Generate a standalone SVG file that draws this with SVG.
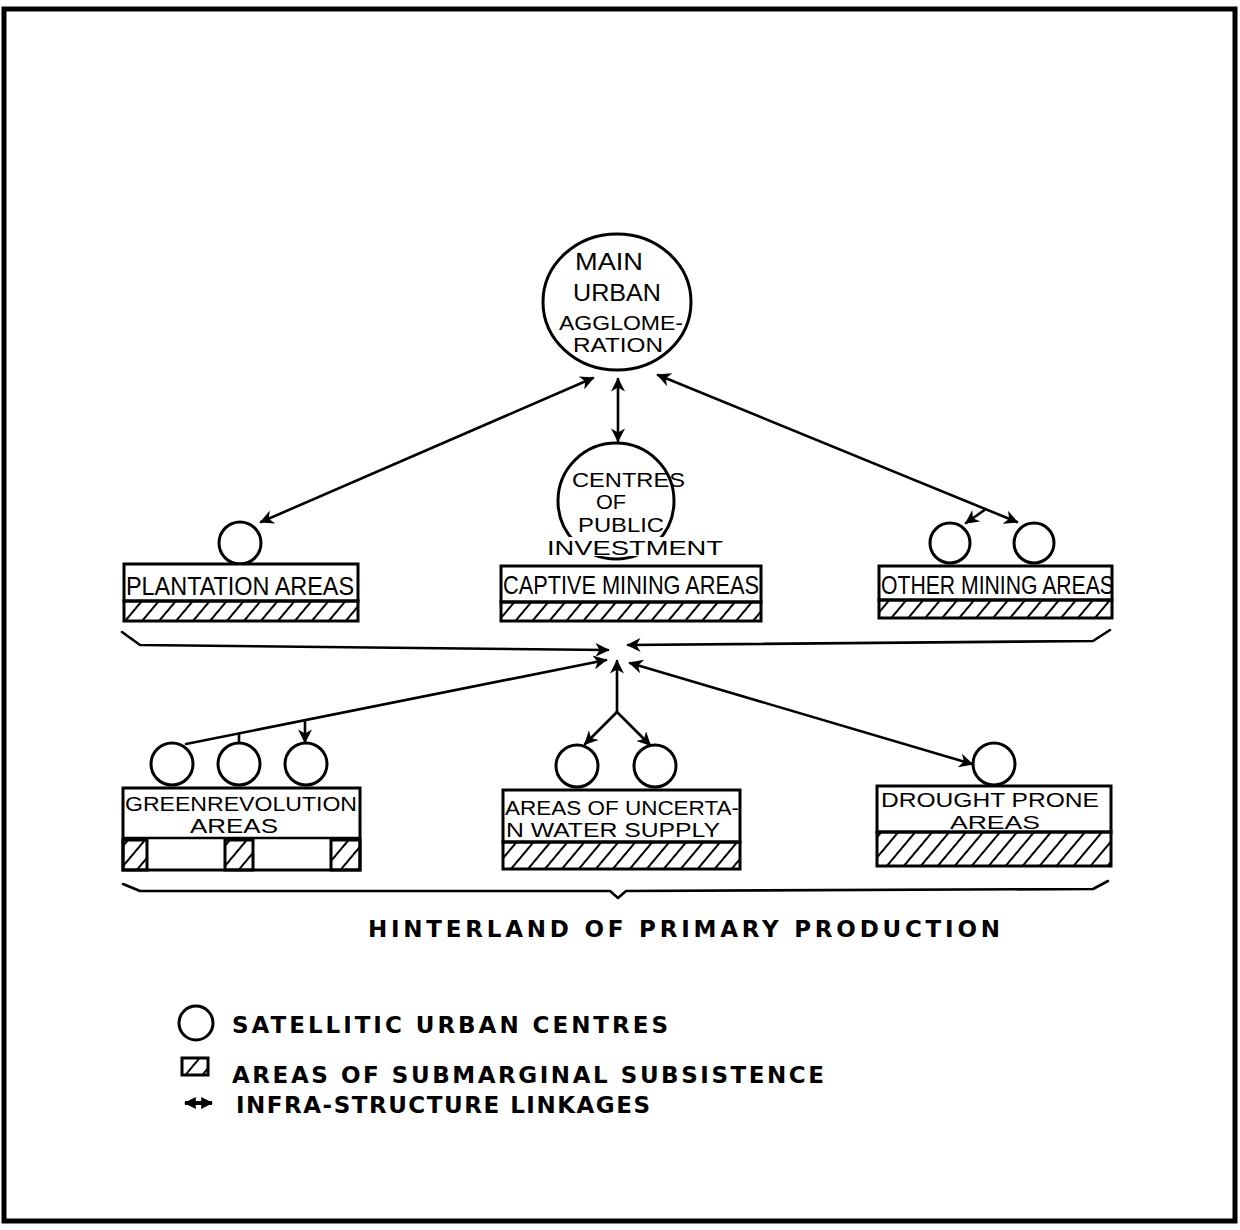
<svg xmlns="http://www.w3.org/2000/svg" width="1240" height="1230" viewBox="0 0 1240 1230">
<defs>
<marker id="ah" viewBox="0 0 10 10" refX="9" refY="5" markerWidth="14" markerHeight="14" markerUnits="userSpaceOnUse" orient="auto-start-reverse">
<path d="M0,0 L10,5 L0,10 L3,5 Z" fill="#000"/>
</marker>
<marker id="ahL" viewBox="0 0 10 10" refX="9" refY="5" markerWidth="12" markerHeight="12" markerUnits="userSpaceOnUse" orient="auto-start-reverse">
<path d="M0,0 L10,5 L0,10 Z" fill="#000"/>
</marker>
<pattern id="hatch" patternUnits="userSpaceOnUse" width="13" height="13" patternTransform="rotate(40)">
<line x1="0" y1="0" x2="0" y2="13" stroke="#000" stroke-width="4"/>
</pattern>
</defs>
<style>
.ln{fill:none;stroke:#000;stroke-width:2.6;stroke-linecap:round;stroke-linejoin:round}
.c{fill:#fff;stroke:#000;stroke-width:3}
.box{fill:#fff;stroke:#000;stroke-width:3}
.h{fill:url(#hatch);stroke:#000;stroke-width:3}
.t{font-family:"Liberation Sans","DejaVu Sans",sans-serif;fill:#000}
.b{font-family:"DejaVu Sans","Liberation Sans",sans-serif;font-weight:bold;fill:#000}
</style>
<rect width="1240" height="1230" fill="#fff"/>
<rect x="4" y="9" width="1231" height="1212" fill="none" stroke="#000" stroke-width="5"/>

<g id="main">
<ellipse class="c" cx="617" cy="302" rx="74" ry="68"/>
<text class="t" x="575" y="270" font-size="23" textLength="68" lengthAdjust="spacingAndGlyphs">MAIN</text>
<text class="t" x="573" y="301" font-size="23" textLength="88" lengthAdjust="spacingAndGlyphs">URBAN</text>
<text class="t" x="559" y="330" font-size="20" textLength="124" lengthAdjust="spacingAndGlyphs">AGGLOME-</text>
<text class="t" x="573" y="352" font-size="20" textLength="90" lengthAdjust="spacingAndGlyphs">RATION</text>
</g>

<g id="plantation">
<circle class="c" cx="240" cy="543" r="21"/>
<rect class="box" x="124" y="564" width="234" height="37"/>
<rect class="h" x="124" y="601" width="234" height="20"/>
<text class="t" x="126" y="595" font-size="26" textLength="228" lengthAdjust="spacingAndGlyphs">PLANTATION AREAS</text>
</g>

<g id="captive">
<circle class="c" cx="616" cy="501" r="58"/>
<rect fill="#fff" x="545" y="537" width="180" height="19"/>
<text class="t" x="572" y="487" font-size="21" textLength="113" lengthAdjust="spacingAndGlyphs">CENTRES</text>
<text class="t" x="596" y="509" font-size="21" textLength="30" lengthAdjust="spacingAndGlyphs">OF</text>
<text class="t" x="578" y="532" font-size="21" textLength="86" lengthAdjust="spacingAndGlyphs">PUBLIC</text>
<text class="t" x="547" y="555" font-size="21" textLength="176" lengthAdjust="spacingAndGlyphs">INVESTMENT</text>
<rect class="box" x="501" y="566" width="260" height="36"/>
<rect class="h" x="501" y="602" width="260" height="19"/>
<text class="t" x="503" y="594" font-size="26" textLength="256" lengthAdjust="spacingAndGlyphs">CAPTIVE MINING AREAS</text>
</g>

<g id="other">
<circle class="c" cx="950" cy="543" r="20"/>
<circle class="c" cx="1034" cy="543" r="20"/>
<rect class="box" x="879" y="566" width="233" height="34"/>
<rect class="h" x="879" y="600" width="233" height="18"/>
<text class="t" x="881" y="594" font-size="26" textLength="233" lengthAdjust="spacingAndGlyphs">OTHER MINING AREAS</text>
</g>

<g id="green">
<circle class="c" cx="172" cy="764" r="21"/>
<circle class="c" cx="239" cy="764" r="21"/>
<circle class="c" cx="306" cy="764" r="21"/>
<rect class="box" x="123" y="788" width="237" height="82"/>
<line class="ln" x1="123" y1="838" x2="360" y2="838"/>
<rect class="h" x="123" y="840" width="24" height="30"/>
<rect class="h" x="225" y="840" width="28" height="30"/>
<rect class="h" x="331" y="840" width="29" height="30"/>
<text class="t" x="125" y="811" font-size="20" textLength="232" lengthAdjust="spacingAndGlyphs">GREENREVOLUTION</text>
<text class="t" x="190" y="833" font-size="20" textLength="88" lengthAdjust="spacingAndGlyphs">AREAS</text>
</g>

<g id="water">
<circle class="c" cx="577" cy="766" r="21"/>
<circle class="c" cx="655" cy="766" r="21"/>
<rect class="box" x="503" y="790" width="237" height="52"/>
<rect class="h" x="503" y="842" width="237" height="27"/>
<text class="t" x="505" y="815" font-size="20" textLength="234" lengthAdjust="spacingAndGlyphs">AREAS OF UNCERTA-</text>
<text class="t" x="506" y="837" font-size="20" textLength="214" lengthAdjust="spacingAndGlyphs">N WATER SUPPLY</text>
</g>

<g id="drought">
<circle class="c" cx="994" cy="764" r="21"/>
<rect class="box" x="877" y="786" width="234" height="46"/>
<rect class="h" x="877" y="832" width="234" height="34"/>
<text class="t" x="881" y="807" font-size="20" textLength="218" lengthAdjust="spacingAndGlyphs">DROUGHT PRONE</text>
<text class="t" x="950" y="829" font-size="19" textLength="90" lengthAdjust="spacingAndGlyphs">AREAS</text>
</g>

<g id="connectors">
<path class="ln" d="M593,378 L261,522" marker-start="url(#ah)" marker-end="url(#ah)"/>
<path class="ln" d="M618,379 L618,441" marker-start="url(#ah)" marker-end="url(#ah)"/>
<path class="ln" d="M658,375 L1017,522" marker-start="url(#ah)" marker-end="url(#ah)"/>
<path class="ln" d="M986,509 L966,523" marker-end="url(#ah)"/>
<path class="ln" d="M122,632 L140,645 L608,650" marker-end="url(#ah)"/>
<path class="ln" d="M1110,630 L1093,641 L628,645" marker-end="url(#ah)"/>
<path class="ln" d="M186,744 L606,660" marker-end="url(#ah)"/>
<path class="ln" d="M305,722 L305,742" marker-end="url(#ah)"/>
<path class="ln" d="M239,734 L239,742"/>
<path class="ln" d="M617,712 L617,661" marker-end="url(#ah)"/>
<path class="ln" d="M617,712 L585,744" marker-end="url(#ah)"/>
<path class="ln" d="M617,712 L650,745" marker-end="url(#ah)"/>
<path class="ln" d="M972,764 L630,663" marker-start="url(#ah)" marker-end="url(#ah)"/>
<path class="ln" d="M123,884 L140,891 L610,891 L618,898 L626,891 L1093,889 L1108,881"/>
</g>

<g id="title">
<text class="b" x="368" y="937" font-size="23" textLength="632" lengthAdjust="spacing">HINTERLAND  OF  PRIMARY  PRODUCTION</text>
</g>

<g id="legend">
<circle class="c" cx="196" cy="1023" r="17"/>
<text class="b" x="232" y="1033" font-size="23" textLength="436" lengthAdjust="spacing">SATELLITIC  URBAN  CENTRES</text>
<rect class="h" x="182" y="1058" width="26" height="17" stroke-width="2"/>
<text class="b" x="232" y="1083" font-size="23" textLength="592" lengthAdjust="spacing">AREAS  OF  SUBMARGINAL  SUBSISTENCE</text>
<path d="M185,1103 L212,1103" fill="none" stroke="#000" stroke-width="4" marker-start="url(#ahL)" marker-end="url(#ahL)"/>
<text class="b" x="236" y="1113" font-size="23" textLength="414" lengthAdjust="spacing">INFRA-STRUCTURE  LINKAGES</text>
</g>
</svg>
